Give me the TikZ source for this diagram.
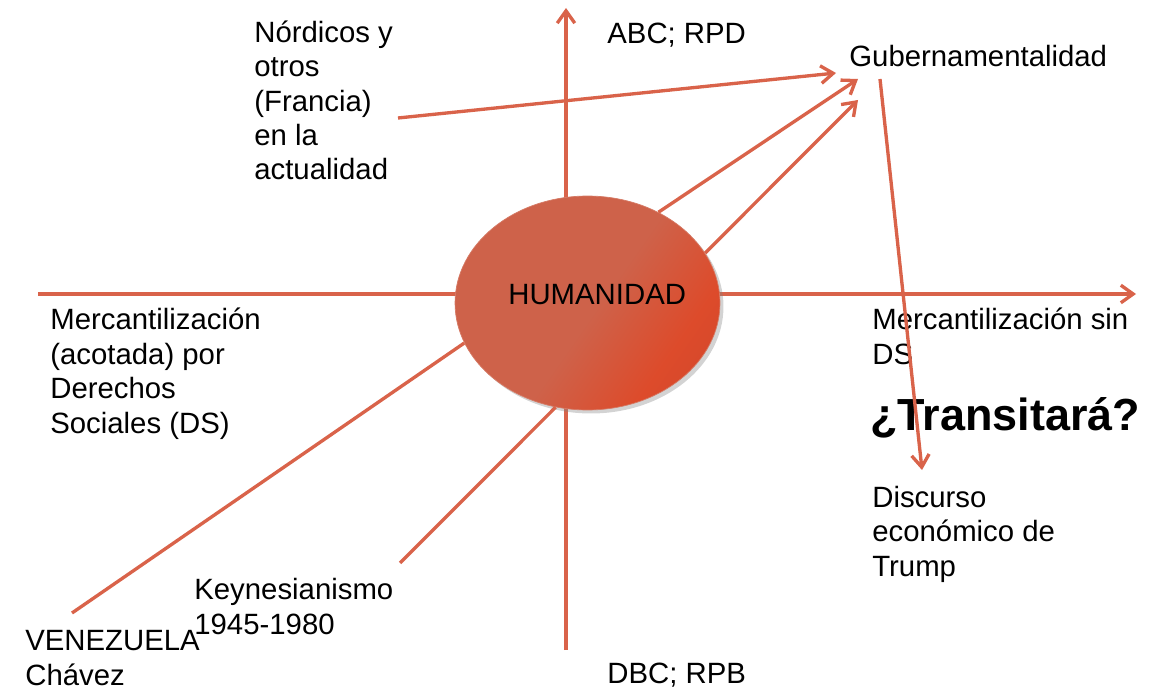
\documentclass[tikz,border=0pt]{standalone}
\usepackage{fontspec}
\setmainfont{Liberation Sans}
\usetikzlibrary{arrows.meta,shapes.geometric,shadows}
\definecolor{linea}{RGB}{217,99,74}
\definecolor{humA}{RGB}{206,98,74}
\definecolor{humB}{RGB}{221,75,43}
\definecolor{humC}{RGB}{194,65,42}
\pgfdeclarehorizontalshading{humshade}{100bp}{color(0bp)=(humA); color(52bp)=(humA); color(70bp)=(humB); color(100bp)=(humC)}

\begin{document}
\begin{tikzpicture}[x=0.02cm,y=-0.02cm,
    eje/.style={draw=linea,line width=1.9pt},
    flecha/.style={eje,-{Straight Barb[length=7pt,width=10pt]}},
    txt/.style={inner sep=0pt,align=left,anchor=base west,font=\fontsize{16.7}{19.6}\selectfont},
    blob/.style={ellipse,minimum width=5.3cm,minimum height=4.28cm,inner sep=0pt,
      shade,shading=humshade,shading angle=-35,draw=humA!85!white,line width=0.4pt,
      drop shadow={shadow xshift=2pt,shadow yshift=-2pt,opacity=0.35}}]
  \useasboundingbox (0,0) rectangle (1159,692);
  \path
    (566,650) coordinate (S)
    (566,8) coordinate (N)
    (38,294) coordinate (W)
    (1136,294) coordinate (E)
    (398,118) coordinate (nordout)
    (836,73) coordinate (gubA)
    (858,79) coordinate (gubB)
    (858,100) coordinate (gubC)
    (880,79) coordinate (gubout)
    (922,470) coordinate (trumpin)
    (72,613) coordinate (venin)
    (400,563) coordinate (keyin)
  ;
  % Axes
  \draw[flecha] (S) -- (N);
  \draw[flecha] (W) -- (E);
  % Center
  \node[blob] (hum) at (587.5,303) {};
  \node[txt] (humtxt) at (508,305) {HUMANIDAD};
  % Annotations (base = last line)
  \node[txt] (nord) at (254,180) {Nórdicos y\\otros\\(Francia)\\en la\\actualidad};
  \node[txt] (abc) at (607,44) {ABC; RPD};
  \node[txt] (gub) at (849,67) {Gubernamentalidad};
  \node[txt] (merc) at (50,433) {Mercantilización\\(acotada) por\\Derechos\\Sociales (DS)};
  \node[txt] (mercsin) at (872,364) {Mercantilización sin\\DS};
  \node[txt,font=\fontsize{25.6}{30}\selectfont\bfseries] (trans) at (870,430) {¿Transitará?};
  \node[txt] (trump) at (872,576) {Discurso\\económico de\\Trump};
  \node[txt] (key) at (194,634) {Keynesianismo\\1945-1980};
  \node[txt] (ven) at (25,685) {VENEZUELA\\Chávez};
  \node[txt] (dbc) at (607,683) {DBC; RPB};
  % Connectors
  \draw[flecha] (nordout) -- (gubA);
  \draw[flecha] (hum.52) -- (gubB);
  \draw[flecha] (hum.23) -- (gubC);
  \draw[flecha] (gubout) -- (trumpin);
  \draw[eje] (venin) -- (hum.198);
  \draw[eje] (keyin) -- (hum.253);
\end{tikzpicture}
\end{document}
